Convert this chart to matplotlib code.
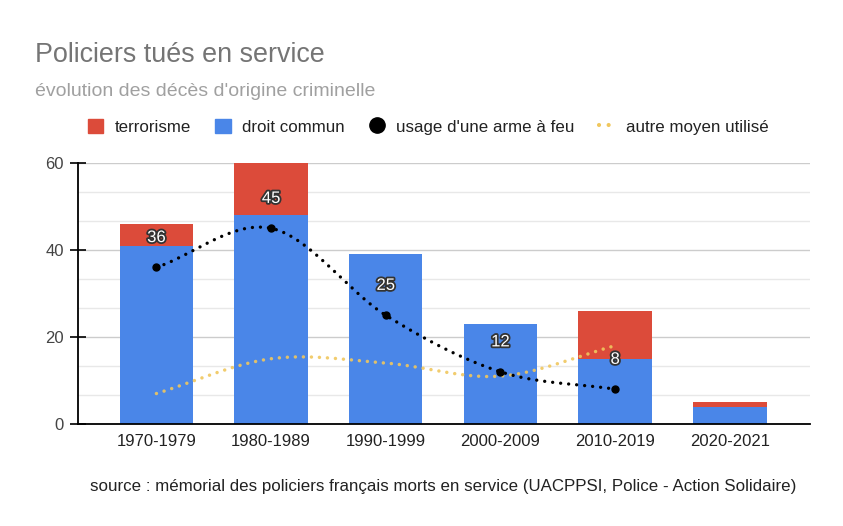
import numpy as np
import matplotlib
matplotlib.use('Agg')
import matplotlib.pyplot as plt
from matplotlib.patches import Patch
from matplotlib.lines import Line2D
import matplotlib.patheffects as pe

plt.rcParams['font.family'] = ['Liberation Sans', 'DejaVu Sans']

periods = ['1970-1979', '1980-1989', '1990-1999', '2000-2009', '2010-2019', '2020-2021']
droit_commun = [41, 48, 39, 23, 15, 4]
terrorisme = [5, 12, 0, 0, 11, 1]
arme_feu = [36, 45, 25, 12, 8]
autre_moyen = [7, 15, 14, 11, 18]

RED = '#dc4b3a'
BLUE = '#4a86e8'
YELLOW = '#f0c75e'


def smooth(xs, ys, n=40):
    # cubic hermite with catmull-rom tangents, like the "smooth" line option
    xs = np.asarray(xs, float)
    ys = np.asarray(ys, float)
    m = np.zeros_like(ys)
    m[1:-1] = (ys[2:] - ys[:-2]) / 2
    m[0] = ys[1] - ys[0]
    m[-1] = ys[-1] - ys[-2]
    px, py = [], []
    for i in range(len(xs) - 1):
        t = np.linspace(0, 1, n)
        h00 = 2*t**3 - 3*t**2 + 1
        h10 = t**3 - 2*t**2 + t
        h01 = -2*t**3 + 3*t**2
        h11 = t**3 - t**2
        px.append(xs[i] + t*(xs[i+1] - xs[i]))
        py.append(h00*ys[i] + h10*m[i] + h01*ys[i+1] + h11*m[i+1])
    return np.concatenate(px), np.concatenate(py)


fig = plt.figure(figsize=(8.43, 5.26), dpi=100)
ax = fig.add_axes([0.0925, 0.194, 0.8685, 0.496])

x = np.arange(len(periods))
ax.bar(x, droit_commun, width=0.64, color=BLUE, zorder=2)
ax.bar(x, terrorisme, width=0.64, bottom=droit_commun, color=RED, zorder=2)

xf = np.arange(len(arme_feu))
sx, sy = smooth(xf, arme_feu)
ax.plot(sx, sy, color='black', lw=2.4, linestyle=(0, (0.01, 2.4)),
        dash_capstyle='round', zorder=4)
ax.plot(xf, arme_feu, 'o', color='black', ms=5, zorder=5)

xa = np.arange(len(autre_moyen))
ax_, ay_ = smooth(xa, autre_moyen)
ax.plot(ax_, ay_, color=YELLOW, lw=2.5, alpha=0.9, linestyle=(0, (0.01, 2.3)),
        dash_capstyle='round', zorder=3)

for xi, v in zip(xf, arme_feu):
    ax.annotate(str(v), (xi, v), xytext=(0, 21.5), textcoords='offset points',
                ha='center', va='center', fontsize=12, color='white', zorder=6,
                path_effects=[pe.withStroke(linewidth=2.6, foreground='#333333')])

ax.set_xlim(-0.684, 5.70)
ax.set_ylim(0, 60)
ax.set_yticks([0, 20, 40, 60])
ax.set_yticks(np.arange(0, 60.1, 20/3), minor=True)
ax.grid(axis='y', which='major', color='#cccccc', lw=1, zorder=0)
ax.grid(axis='y', which='minor', color='#e8e8e8', lw=1, zorder=0)
ax.tick_params(axis='y', which='major', direction='inout', length=12, width=1.2,
               labelsize=12, labelcolor='#444444', pad=4)
ax.tick_params(axis='y', which='minor', length=0)
ax.set_xticks(x)
ax.set_xticklabels(periods)
ax.tick_params(axis='x', length=0, labelsize=12, labelcolor='#222222', pad=7)
for s in ['top', 'right']:
    ax.spines[s].set_visible(False)
ax.spines['left'].set_linewidth(1.3)
ax.spines['bottom'].set_linewidth(1.3)

fig.text(0.0415, 0.882, 'Policiers tués en service', fontsize=19.4, color='#757575',
         va='baseline')
fig.text(0.0415, 0.818, "évolution des décès d'origine criminelle", fontsize=14,
         color='#a0a0a0', va='baseline')

handles = [Patch(color=RED, label='terrorisme'),
           Patch(color=BLUE, label='droit commun'),
           Line2D([], [], marker='o', color='black', lw=0, ms=11,
                  label="usage d'une arme à feu"),
           Line2D([], [], color=YELLOW, lw=3, linestyle=(0, (0.01, 2.3)),
                  dash_capstyle='round', label='autre moyen utilisé')]
fig.legend(handles=handles, loc='center left', bbox_to_anchor=(0.086, 0.759),
           ncol=4, frameon=False, fontsize=12.2, handlelength=0.9,
           handleheight=0.9, handletextpad=0.7, columnspacing=1.42,
           labelcolor='#222222')

fig.text(0.526, 0.076,
         'source : mémorial des policiers français morts en service (UACPPSI, Police - Action Solidaire)',
         fontsize=12.2, color='#222222', ha='center', va='center')

fig.savefig('out.png', dpi=100)
